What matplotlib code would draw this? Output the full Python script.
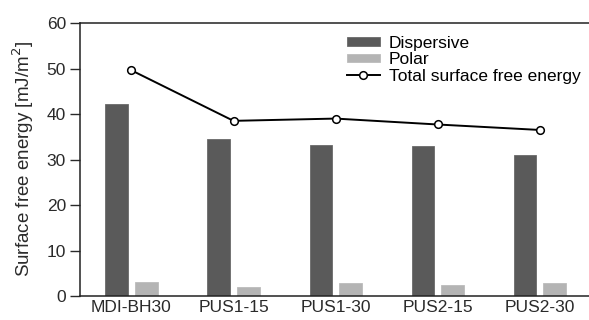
import matplotlib.pyplot as plt
import numpy as np

plt.rcParams['font.family'] = ['Liberation Sans', 'DejaVu Sans']

# Surface free energy components per sample (mJ/m^2)
samples = ['MDI-BH30', 'PUS1-15', 'PUS1-30', 'PUS2-15', 'PUS2-30']
dispersive = [42.2, 34.5, 33.3, 33.0, 30.9]
polar = [3.1, 2.0, 2.8, 2.4, 2.8]
total = [49.6, 38.5, 39.0, 37.7, 36.5]

x = np.arange(len(samples))
w = 0.22
off = 0.145

fig = plt.figure(figsize=(5.89, 3.2), dpi=100)
ax = fig.add_axes([0.1358, 0.075, 0.8642, 0.853])

b1 = ax.bar(x - off, dispersive, w, color='#5a5a5a', edgecolor='#6a6a6a',
            linewidth=0.6, label='Dispersive')
b2 = ax.bar(x + off, polar, w, color='#b4b4b4', edgecolor='#bcbcbc',
            linewidth=0.6, label='Polar')
ln, = ax.plot(x, total, color='black', linewidth=1.4, marker='o', markersize=5.5,
              markerfacecolor='white', markeredgecolor='black',
              markeredgewidth=1.1, label='Total surface free energy')

ax.set_xlim(-0.505, 4.485)
ax.set_ylim(0, 60)
ax.set_yticks(np.arange(0, 61, 10))
ax.set_xticks(x)
ax.set_xticklabels(samples)
ax.tick_params(axis='x', length=0, labelsize=12.5, pad=3, colors='#2a2a2a')
ax.tick_params(axis='y', direction='out', length=7, width=1, labelsize=12.5,
               pad=3, colors='#2a2a2a')
ax.spines['right'].set_visible(False)
for s in ['left', 'bottom', 'top']:
    ax.spines[s].set_linewidth(1.1)
    ax.spines[s].set_color('#222222')
ax.set_ylabel('Surface free energy [mJ/m$^2$]', fontsize=13.5, color='#2a2a2a',
              labelpad=8)

ax.legend([b1, b2, ln], ['Dispersive', 'Polar', 'Total surface free energy'],
          loc='upper right', bbox_to_anchor=(1.0, 0.985), frameon=False,
          fontsize=12.5, handlelength=1.9, handleheight=0.4, handletextpad=0.5,
          labelspacing=0.08, borderaxespad=0.2, borderpad=0.3)

fig.savefig('out.png', dpi=100)
